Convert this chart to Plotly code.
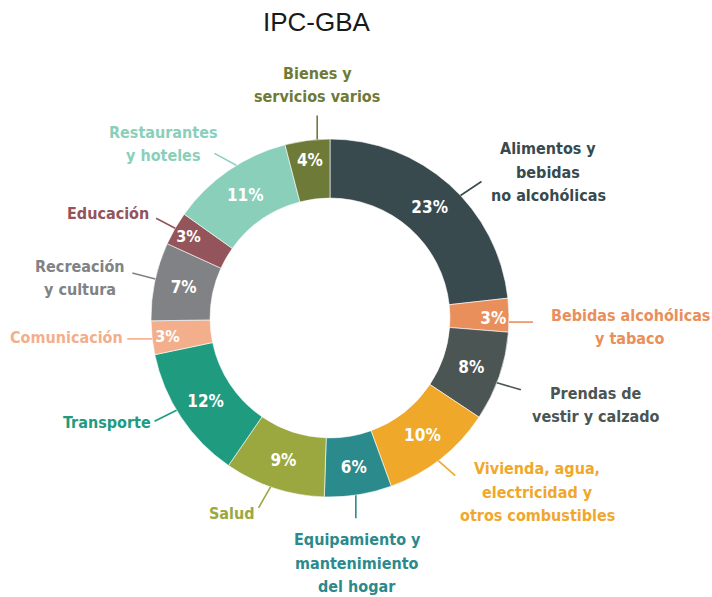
import math
import plotly.graph_objects as go

W, H = 712, 597

title = "IPC-GBA"
categories = [
    "Alimentos y<br>bebidas<br>no alcohólicas",
    "Bebidas alcohólicas<br>y tabaco",
    "Prendas de<br>vestir y calzado",
    "Vivienda, agua,<br>electricidad y<br>otros combustibles",
    "Equipamiento y<br>mantenimiento<br>del hogar",
    "Salud",
    "Transporte",
    "Comunicación",
    "Recreación<br>y cultura",
    "Educación",
    "Restaurantes<br>y hoteles",
    "Bienes y<br>servicios varios",
]
values = [23, 3, 8, 10, 6, 9, 12, 3, 7, 3, 11, 4]
colors = ["#384a4d", "#e98f5c", "#4b5553", "#f0a82b", "#2b8a8b", "#9aa83f",
          "#1f9b80", "#f3ae8b", "#808285", "#93545a", "#89cfba", "#6e7a37"]

FONT = "DejaVu Sans Condensed"

# layout geometry (pixels)
CX, CY, R = 330, 318, 179
HOLE = 0.67
LINE_GAP = 23.5

# leader line: anchor angle on outer edge (deg clockwise from top), end offset (px)
line_angle = [46.8, 91.3, 111.2, 142.8, 171.7, 199.4, 239.0, 263.3, 282.6, 300.1, 328.5, 355.9]
line_off = [(21, -14), (24, 0), (24, 7), (17, 15), (0, 23), (-12, 21), (-22, 11),
            (-25, 0), (-23, -6), (-19, -10), (-22, -12), (0, -24)]
label_pos = [(548, 172), (630, 327), (596, 405), (537, 492), (357, 563), (232, 513),
             (107, 422), (66, 337), (80, 278), (108, 213), (163, 144), (317, 85)]

def px(x, y):
    return x / W, 1 - y / H

fig = go.Figure(go.Pie(
    labels=[c.replace("<br>", " ") for c in categories],
    values=values,
    sort=False,
    direction="clockwise",
    rotation=0,
    hole=HOLE,
    marker=dict(colors=colors, line=dict(color="#ffffff", width=0.6)),
    texttemplate="<b>%{value}%</b>",
    textposition="inside",
    insidetextorientation="horizontal",
    textfont=dict(family=FONT, size=17, color="white"),
    domain=dict(x=[(CX - R) / W, (CX + R) / W], y=[1 - (CY + R) / H, 1 - (CY - R) / H]),
    showlegend=False,
    hoverinfo="label+value",
))

shapes = []
annotations = []
for i, cat in enumerate(categories):
    a = math.radians(line_angle[i])
    x0 = CX + R * math.sin(a)
    y0 = CY - R * math.cos(a)
    x1 = x0 + line_off[i][0]
    y1 = y0 + line_off[i][1]
    p0 = px(x0, y0)
    p1 = px(x1, y1)
    shapes.append(dict(type="line", xref="paper", yref="paper", x0=p0[0], y0=p0[1],
                       x1=p1[0], y1=p1[1], line=dict(color=colors[i], width=1.6)))
    parts = cat.split("<br>")
    n = len(parts)
    for k, part in enumerate(parts):
        ly = label_pos[i][1] + (k - (n - 1) / 2) * LINE_GAP
        lp = px(label_pos[i][0], ly)
        annotations.append(dict(text="<b>" + part + "</b>", xref="paper", yref="paper",
                                x=lp[0], y=lp[1], xanchor="center", yanchor="middle",
                                showarrow=False, align="center",
                                font=dict(family=FONT, size=16, color=colors[i])))

annotations.append(dict(text=title, xref="paper", yref="paper", x=317 / W, y=1 - 22 / H,
                        xanchor="center", yanchor="middle", showarrow=False,
                        font=dict(family="Liberation Sans, Arial", size=26, color="#1a1a1a")))

fig.update_layout(
    width=W, height=H,
    margin=dict(l=0, r=0, t=0, b=0),
    paper_bgcolor="white",
    plot_bgcolor="white",
    shapes=shapes,
    annotations=annotations,
)

fig.write_html("out.html", config={"displayModeBar": False},
               post_script="document.body.style.margin='0';")
